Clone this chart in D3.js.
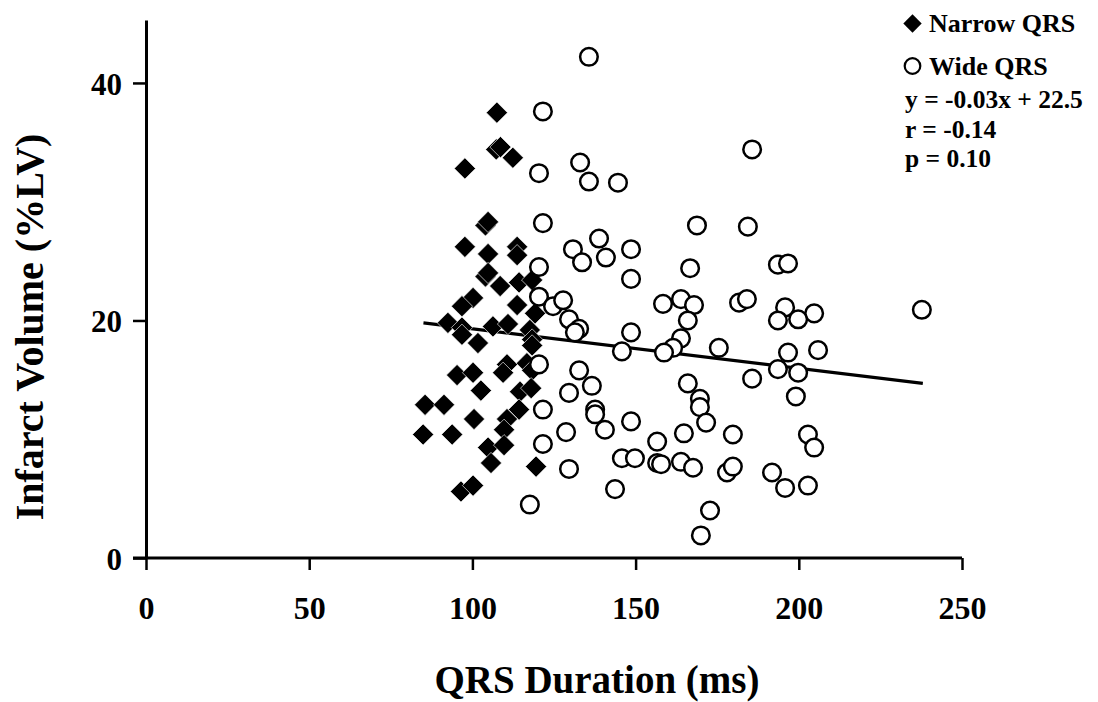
<!DOCTYPE html>
<html><head><meta charset="utf-8">
<script src="https://cdn.jsdelivr.net/npm/d3@7"></script>
<style>
html,body{margin:0;padding:0;background:#fff;}
text{font-family:"Liberation Serif","Times New Roman",serif;font-weight:bold;fill:#000;}
</style></head>
<body>
<svg id="chart" width="1098" height="702"></svg>
<script>
// Narrow QRS (diamonds)
const narrowX = [107.5,107.3,108.6,112.4,97.7,104.0,104.8,97.7,104.8,113.7,113.7,104.0,104.8,108.5,114.3,118.3,100.2,96.8,113.7,119.2,92.5,96.8,96.8,106.3,110.9,117.6,118.3,101.7,118.3,110.6,109.4,116.7,118.3,95.3,100.2,102.6,114.6,118.0,114.3,85.5,91.3,100.5,110.6,109.7,84.9,93.8,104.8,109.7,105.7,119.5,96.5,100.2];
const narrowY = [37.5,34.4,34.6,33.7,32.8,28.0,28.3,26.2,25.6,26.2,25.5,23.7,24.0,22.9,23.2,23.4,21.9,21.2,21.3,20.6,19.8,19.4,18.8,19.5,19.7,19.2,18.4,18.1,17.9,16.3,15.6,16.4,15.8,15.4,15.6,14.1,14.0,14.3,12.5,12.9,12.9,11.7,11.7,10.8,10.4,10.4,9.3,9.5,8.0,7.7,5.6,6.1];
// Wide QRS (open circles)
const wideX = [135.7,121.6,185.7,120.4,133.0,135.7,144.6,121.6,168.8,184.4,130.8,138.8,133.6,140.9,148.6,120.4,148.6,166.7,193.6,196.7,237.7,158.4,163.9,167.9,181.7,184.1,195.8,204.7,193.6,199.8,120.4,124.7,127.8,129.6,166.0,163.9,161.5,158.7,175.5,196.7,205.9,193.6,199.8,185.7,199.1,166.0,169.7,169.7,171.6,179.8,202.8,204.7,164.8,156.6,148.6,145.8,132.7,131.4,132.7,136.6,129.6,137.6,137.6,140.6,148.6,121.6,128.7,121.6,129.6,145.8,149.8,156.6,157.8,163.9,167.6,178.0,179.8,191.8,195.8,202.8,143.7,172.8,170.0,117.6,120.4];
const wideY = [42.2,37.6,34.4,32.4,33.3,31.7,31.6,28.2,28.0,27.9,26.0,26.9,24.9,25.3,26.0,24.5,23.5,24.4,24.7,24.8,20.9,21.4,21.8,21.3,21.5,21.8,21.1,20.6,20.0,20.1,22.0,21.2,21.7,20.1,20.0,18.5,17.7,17.3,17.7,17.3,17.5,15.9,15.6,15.1,13.6,14.7,13.4,12.7,11.4,10.4,10.4,9.3,10.5,9.8,19.0,17.4,19.3,19.0,15.8,14.5,13.9,12.5,12.1,10.8,11.5,12.5,10.6,9.6,7.5,8.4,8.4,8.0,7.9,8.1,7.6,7.2,7.7,7.2,5.9,6.1,5.8,4.0,1.9,4.5,16.3];
// Regression line endpoints
const lineX = [85, 238];
const lineY = [19.8, 14.7];
const xTicks = [0, 50, 100, 150, 200, 250];
const yTicks = [0, 20, 40];
const legendLabels = ["Narrow QRS", "Wide QRS"];
const statsLines = ["y = -0.03x + 22.5", "r = -0.14", "p = 0.10"];

const svg = d3.select("#chart");
const x = d3.scaleLinear().domain([0, 250]).range([146, 962]);
const y = d3.scaleLinear().domain([0, 45.3]).range([558, 20]);

// axes
const xAxis = svg.append("g").attr("transform", `translate(0,${y(0)})`)
  .call(d3.axisBottom(x).tickValues(xTicks).tickSize(12).tickPadding(26).tickSizeOuter(0));
const yAxis = svg.append("g").attr("transform", `translate(${x(0)},0)`)
  .call(d3.axisLeft(y).tickValues(yTicks).tickSize(13).tickPadding(11).tickSizeOuter(0));
[xAxis, yAxis].forEach(g => {
  g.select(".domain").attr("stroke", "#000").attr("stroke-width", 3);
  g.selectAll(".tick line").attr("stroke", "#000").attr("stroke-width", 2.5);
  g.selectAll(".tick text").attr("font-family", '"Liberation Serif","Times New Roman",serif')
    .attr("font-weight", "bold").attr("font-size", 32).attr("fill", "#000");
});
xAxis.select(".domain").attr("d", `M${x(0)-13},0H${x(250)}`);
yAxis.selectAll(".tick text").attr("font-size", 31).attr("dy", "0.36em");

// regression line
svg.append("line")
  .attr("x1", x(lineX[0])).attr("y1", y(lineY[0]))
  .attr("x2", x(lineX[1])).attr("y2", y(lineY[1]))
  .attr("stroke", "#000").attr("stroke-width", 3.4);

// diamonds
const narrow = narrowX.map((v, i) => [v, narrowY[i]]);
svg.append("g").selectAll("rect").data(narrow).join("rect")
  .attr("x", -7.5).attr("y", -7.5).attr("width", 15).attr("height", 15)
  .attr("transform", d => `translate(${x(d[0])},${y(d[1])}) rotate(45)`)
  .attr("fill", "#000").attr("stroke", "#fff").attr("stroke-width", 0.6);

// circles
const wide = wideX.map((v, i) => [v, wideY[i]]);
svg.append("g").selectAll("circle").data(wide).join("circle")
  .attr("cx", d => x(d[0])).attr("cy", d => y(d[1])).attr("r", 8.8)
  .attr("fill", "#fff").attr("stroke", "#000").attr("stroke-width", 2.5);

// legend
svg.append("rect").attr("x", -6.5).attr("y", -6.5).attr("width", 13).attr("height", 13)
  .attr("transform", "translate(912.5,23.5) rotate(45)").attr("fill", "#000");
svg.append("circle").attr("cx", 912.5).attr("cy", 66).attr("r", 7.8)
  .attr("fill", "#fff").attr("stroke", "#000").attr("stroke-width", 2.2);
svg.append("text").attr("x", 929).attr("y", 32).attr("font-size", 26).text(legendLabels[0]);
svg.append("text").attr("x", 929).attr("y", 75).attr("font-size", 26).text(legendLabels[1]);
const statsY = [108, 138, 167];
statsLines.forEach((s, i) => {
  svg.append("text").attr("x", 905).attr("y", statsY[i]).attr("font-size", 25.5).text(s);
});

// axis titles
svg.append("text").attr("x", 597).attr("y", 693).attr("text-anchor", "middle")
  .attr("font-size", 39).text("QRS Duration (ms)");
svg.append("text").attr("transform", "translate(43,327) rotate(-90)").attr("text-anchor", "middle")
  .attr("font-size", 40).text("Infarct Volume (%LV)");
</script>
</body></html>
